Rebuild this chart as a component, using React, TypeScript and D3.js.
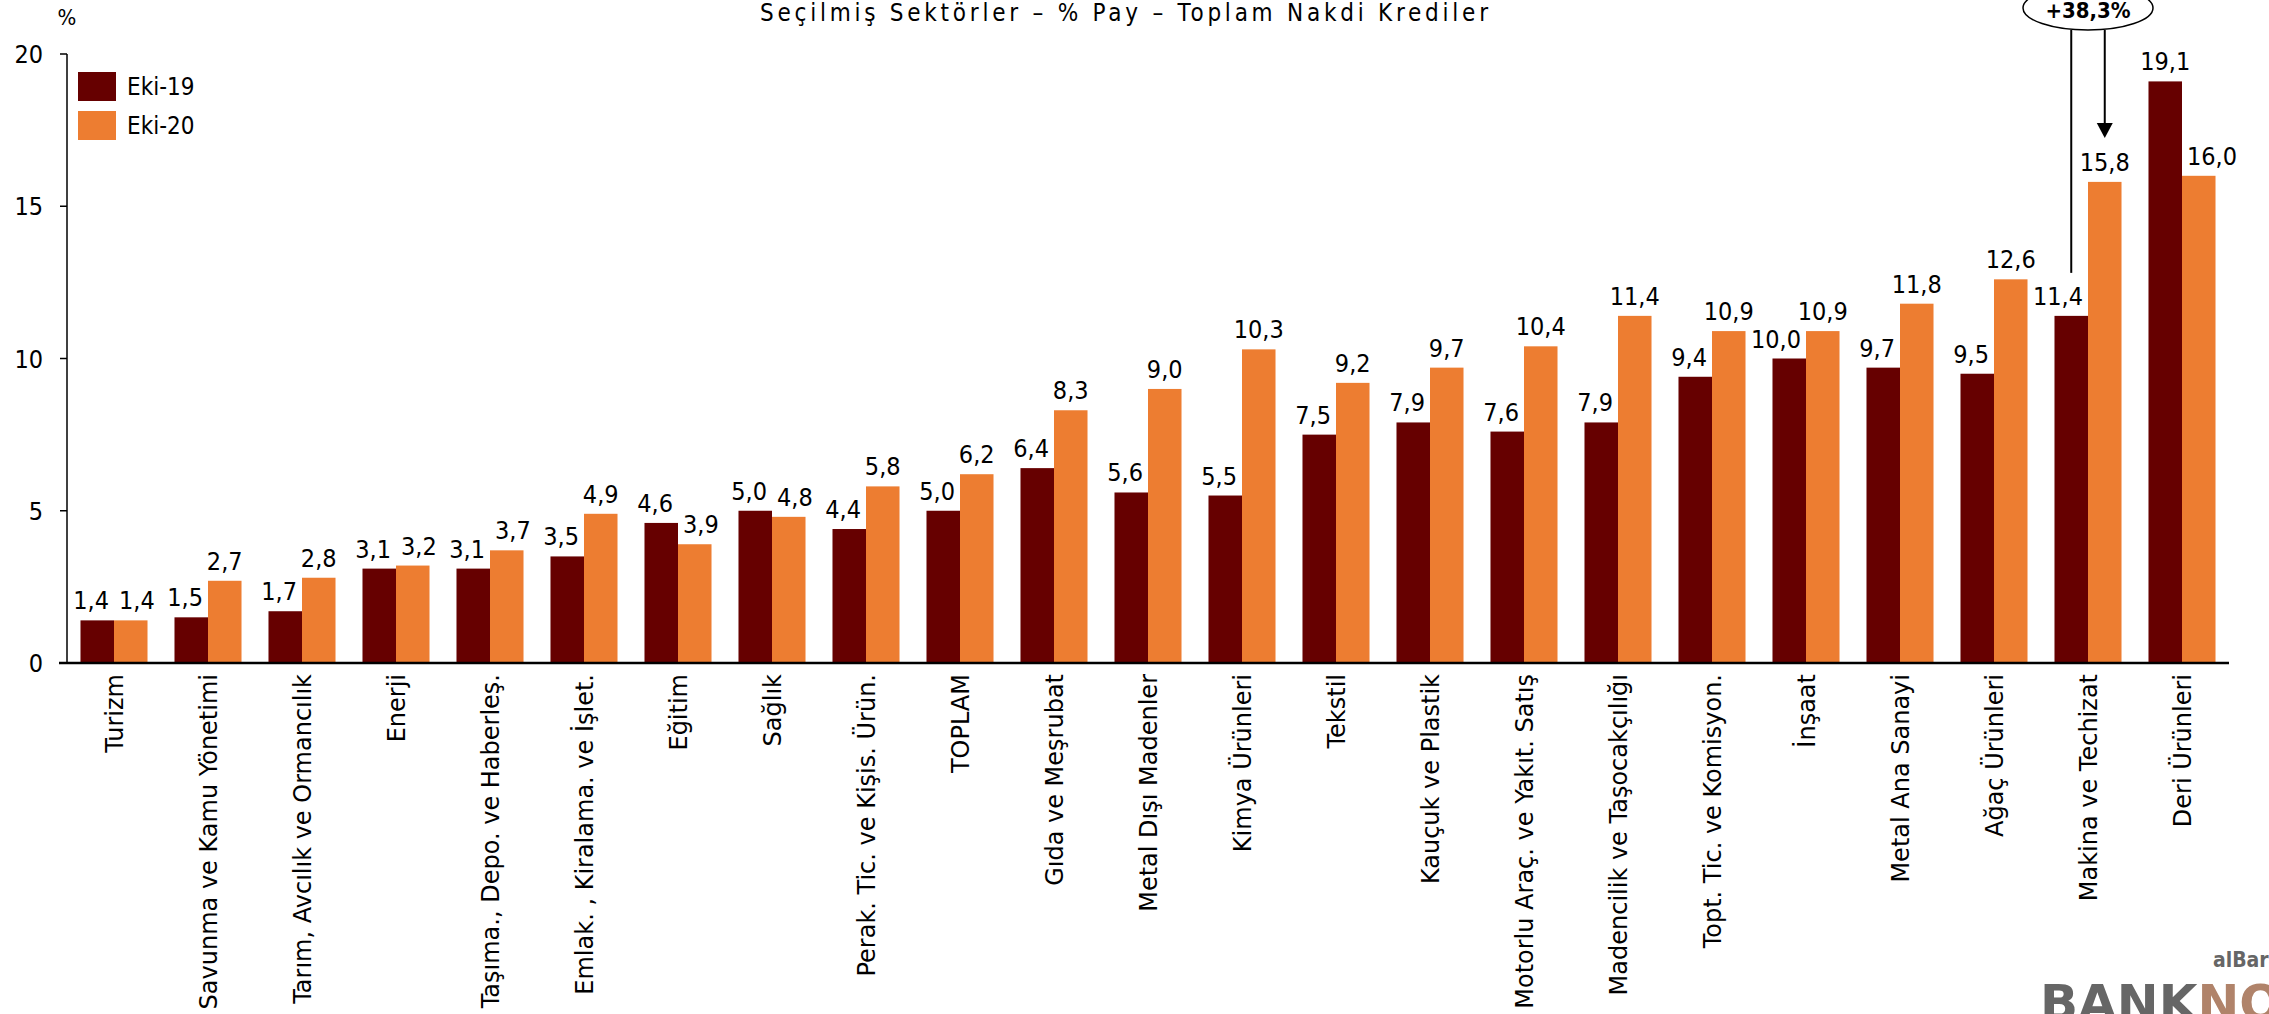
import React from "react";
import * as d3 from "d3";

const categories = [
  "Turizm",
  "Savunma ve Kamu Yönetimi",
  "Tarım, Avcılık ve Ormancılık",
  "Enerji",
  "Taşıma., Depo. ve Haberleş.",
  "Emlak. , Kiralama. ve İşlet.",
  "Eğitim",
  "Sağlık",
  "Perak. Tic. ve Kişis. Ürün.",
  "TOPLAM",
  "Gıda ve Meşrubat",
  "Metal Dışı Madenler",
  "Kimya Ürünleri",
  "Tekstil",
  "Kauçuk ve Plastik",
  "Motorlu Araç. ve Yakıt. Satış",
  "Madencilik ve Taşocakçılığı",
  "Topt. Tic. ve Komisyon.",
  "İnşaat",
  "Metal Ana Sanayi",
  "Ağaç Ürünleri",
  "Makina ve Techizat",
  "Deri Ürünleri",
];

const seriesNames = ["Eki-19", "Eki-20"];
const eki19 = [1.4, 1.5, 1.7, 3.1, 3.1, 3.5, 4.6, 5.0, 4.4, 5.0, 6.4, 5.6, 5.5, 7.5, 7.9, 7.6, 7.9, 9.4, 10.0, 9.7, 9.5, 11.4, 19.1];
const eki20 = [1.4, 2.7, 2.8, 3.2, 3.7, 4.9, 3.9, 4.8, 5.8, 6.2, 8.3, 9.0, 10.3, 9.2, 9.7, 10.4, 11.4, 10.9, 10.9, 11.8, 12.6, 15.8, 16.0];
const yTicks = [0, 5, 10, 15, 20];
const title = "Seçilmiş Sektörler – % Pay – Toplam Nakdi Krediler";
const yUnit = "%";
const annotationCategory = "Makina ve Techizat";
const annotationText = "+38,3%";

const colors = ["#660000", "#ED7D31"];

const W = 2269;
const H = 1014;
const left = 67;
const right = 2229;
const y0 = 663;
const yTop = 54;

const condensed = "'DejaVu Sans Condensed', 'DejaVu Sans', sans-serif";
const wide = "'DejaVu Sans', sans-serif";

const fmt = (v: number) => d3.format(".1f")(v).replace(".", ",");

export default function App() {
  const x = d3
    .scaleBand<string>()
    .domain(categories)
    .range([left, right])
    .paddingInner(0.287)
    .paddingOuter(0.1435);
  const x1 = d3.scaleBand<string>().domain(seriesNames).range([0, x.bandwidth()]);
  const y = d3.scaleLinear().domain([0, 20]).range([y0, yTop]);
  const bw = x1.bandwidth();
  const labelGap = 11;
  const sideGap = 5;
  const nearPx = 24;

  const series = [eki19, eki20];

  const ax = x(annotationCategory)!;
  const ai = categories.indexOf(annotationCategory);
  const aCenter = ax + x.bandwidth() / 2;
  const darkCx = ax + x1(seriesNames[0])! + bw / 2;
  const orCx = ax + x1(seriesNames[1])! + bw / 2;
  const ellCy = 8;
  const ellRy = 22;
  const ellBottom = ellCy + ellRy;
  const arrowTip = y(eki20[ai]) - 44;
  const leftEnd = y(eki19[ai]) - 43;

  return (
    <svg
      width={W}
      height={H}
      style={{ position: "absolute", left: 0, top: 0, background: "#fff" }}
    >
      <rect x={0} y={0} width={W} height={H} fill="#fff" />
      {/* title */}
      <text
        x={1124}
        y={21}
        textAnchor="middle"
        fontFamily={condensed}
        fontStretch="condensed"
        fontSize={24}
        textLength={728}
        lengthAdjust="spacing"
        fill="#000"
      >
        {title}
      </text>
      {/* unit */}
      <text x={67} y={25} textAnchor="middle" fontFamily={condensed} fontStretch="condensed" fontSize={22} fill="#000">
        {yUnit}
      </text>

      {/* bars */}
      {categories.map((c, i) => (
        <g key={c} transform={`translate(${x(c)},0)`}>
          {seriesNames.map((s, k) => (
            <rect
              key={s}
              x={x1(s)}
              y={y(series[k][i])}
              width={bw}
              height={y0 - y(series[k][i])}
              fill={colors[k]}
            />
          ))}
        </g>
      ))}

      {/* value labels */}
      {categories.map((c, i) => {
        const gx = x(c)!;
        const center = gx + x.bandwidth() / 2;
        const yd = y(eki19[i]);
        const yo = y(eki20[i]);
        const shiftDark = yo < yd + nearPx;
        const shiftOr = yd < yo + nearPx;
        const dcx = gx + x1(seriesNames[0])! + bw / 2;
        const ocx = gx + x1(seriesNames[1])! + bw / 2;
        return (
          <g key={"l" + c} fontFamily={condensed} fontStretch="condensed" fontSize={25} fill="#000">
            <text
              x={shiftDark ? center - sideGap : dcx}
              y={yd - labelGap}
              textAnchor={shiftDark ? "end" : "middle"}
            >
              {fmt(eki19[i])}
            </text>
            <text
              x={shiftOr ? center + sideGap : ocx}
              y={yo - labelGap}
              textAnchor={shiftOr ? "start" : "middle"}
            >
              {fmt(eki20[i])}
            </text>
          </g>
        );
      })}

      {/* y axis */}
      <line x1={left} x2={left} y1={y(20)} y2={y0} stroke="#000" strokeWidth={1.5} />
      {yTicks.map((t) => (
        <g key={t}>
          <line x1={left - 7} x2={left} y1={y(t)} y2={y(t)} stroke="#000" strokeWidth={1.5} />
          <text
            x={left - 24}
            y={y(t)}
            dy="0.36em"
            textAnchor="end"
            fontFamily={condensed}
            fontStretch="condensed"
            fontSize={25}
            fill="#000"
          >
            {t}
          </text>
        </g>
      ))}
      {/* x axis */}
      <line x1={left - 8} x2={right} y1={y0} y2={y0} stroke="#000" strokeWidth={2.5} />
      {categories.map((c) => (
        <text
          key={"c" + c}
          transform={`translate(${x(c)! + x.bandwidth() / 2},${y0 + 11}) rotate(-90)`}
          textAnchor="end"
          dy="0.36em"
          fontFamily={wide}
          fontSize={24}
          fill="#000"
        >
          {c}
        </text>
      ))}

      {/* legend */}
      {seriesNames.map((s, k) => (
        <g key={"lg" + s}>
          <rect x={78} y={72 + k * 39} width={38} height={29} fill={colors[k]} />
          <text
            x={127}
            y={72 + k * 39 + 14.5}
            dy="0.36em"
            fontFamily={condensed}
            fontStretch="condensed"
            fontSize={24}
            fill="#000"
          >
            {s}
          </text>
        </g>
      ))}

      {/* annotation */}
      <line x1={darkCx} x2={darkCx} y1={ellBottom} y2={leftEnd} stroke="#000" strokeWidth={2} />
      <line x1={orCx} x2={orCx} y1={ellBottom} y2={arrowTip - 14} stroke="#000" strokeWidth={2} />
      <path
        d={`M${orCx - 8},${arrowTip - 15} L${orCx + 8},${arrowTip - 15} L${orCx},${arrowTip} Z`}
        fill="#000"
      />
      <ellipse cx={aCenter} cy={ellCy} rx={65} ry={ellRy} fill="#fff" stroke="#000" strokeWidth={1.5} />
      <text
        x={aCenter}
        y={18}
        textAnchor="middle"
        fontFamily={condensed}
        fontStretch="condensed"
        fontWeight="bold"
        fontSize={22}
        fill="#000"
      >
        {annotationText}
      </text>

      {/* watermark */}
      <text x={2213} y={967} fontFamily={condensed} fontStretch="condensed" fontWeight="bold" fontSize={21} fill="#666">
        alBaraka
      </text>
      <text x={2040} y={1020} fontFamily={wide} fontWeight="bold" fontSize={50} fill="#666">
        BANK<tspan fill="#b0836a">NOT</tspan>
      </text>
    </svg>
  );
}
